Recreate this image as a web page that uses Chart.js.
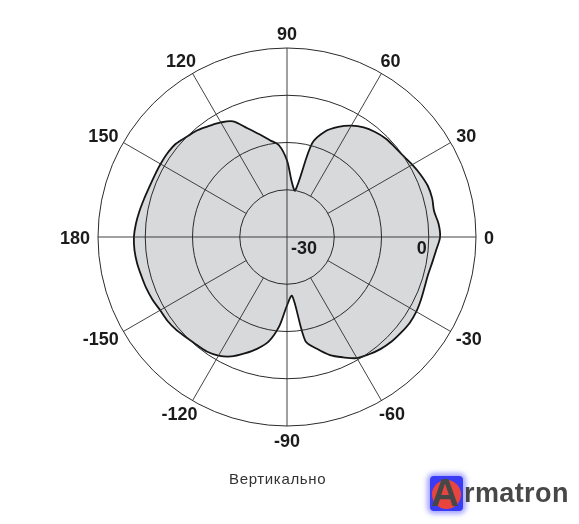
<!DOCTYPE html>
<html>
<head>
<meta charset="utf-8">
<script src="https://cdn.jsdelivr.net/npm/chart.js@4"></script>
<style>
html,body{margin:0;padding:0;background:#fff;}
#wrap{position:relative;width:579px;height:524px;overflow:hidden;background:#fff;}
#c{position:absolute;left:0;top:0;}
#cap{position:absolute;left:229px;top:470px;font:15px "Liberation Sans",Arial,sans-serif;color:#333;white-space:nowrap;letter-spacing:0.65px;}
#sq{position:absolute;left:430px;top:476px;width:33px;height:35px;background:#3a3cf5;border-radius:4px;box-shadow:0 0 5px 3px rgba(90,90,255,0.55);}
#circ{position:absolute;left:2px;top:4px;width:29px;height:29px;border-radius:50%;background:#e8453e;}
#bigA{position:absolute;left:1px;top:-5px;font:bold 39px "Liberation Sans",Arial,sans-serif;color:#474747;line-height:44px;}
#rest{position:absolute;left:464px;top:478px;font:bold 27px "Liberation Sans",Arial,sans-serif;color:#474747;letter-spacing:0.4px;line-height:30px;white-space:nowrap;}
</style>
</head>
<body>
<div id="wrap">
  <canvas id="c" width="579" height="524"></canvas>
  <div id="cap">Вертикально</div>
  <div id="sq"><div id="circ"></div><div id="bigA">A</div></div>
  <div id="rest">rmatron</div>
</div>
<script>
// Angles in degrees (counter-clockwise, 0 = right)
const angleDeg = [0,5,10,15,20,25,30,35,40,45,50,55,60,65,70,75,80,85,90,95,100,105,110,115,120,125,130,135,140,145,150,155,160,165,170,175,180,
  -175,-170,-165,-160,-155,-150,-145,-140,-135,-130,-125,-120,-115,-110,-105,-100,-95,-90,-85,-80,-75,-70,-65,-60,-55,-50,-45,-40,-35,-30,-25,-20,-15,-10,-5];
// Gain in dB
const gainDb = [2.4,2.2,1.6,1.8,1.7,1.2,0.6,0.0,-0.3,-0.5,-1.0,-1.7,-2.8,-4.3,-6.2,-9.5,-20.0,-18.3,-13.8,-10.5,-9.2,-7.5,-5.5,-3.0,-2.0,-1.3,-0.5,0.0,0.7,0.9,0.9,0.9,1.0,1.3,1.7,2.1,2.4,
  2.4,2.2,1.9,1.7,1.4,1.0,0.9,0.6,0.1,-0.2,-0.4,-1.0,-2.1,-3.8,-5.5,-7.5,-11.0,-15.5,-17.5,-7.7,-5.5,-3.4,-1.9,-0.4,0.3,0.9,1.3,1.5,1.7,1.6,1.3,1.0,0.9,1.2,1.7];
// Labelled spokes
const spokeAngles = [0,30,60,90,120,150,180,-150,-120,-90,-60,-30];
const spokeLabels = ['0','30','60','90','120','150','180','-150','-120','-90','-60','-30'];
// Radial scale
const rMin = -30, rMax = 10, rStep = 10;
const radialTickValues = [-30, 0];
const radialTickTexts = ['-30', '0'];
const innerSpokeStart = -20;

// Radar goes clockwise from startAngle; reorder so that angles run counter-clockwise on screen
const n = angleDeg.length;
const order = angleDeg.map((_, i) => (n - i) % n);
const radarLabels = order.map(i => angleDeg[i]);
const radarData = order.map(i => gainDb[i]);

const FONT = '"Liberation Sans", Arial, Helvetica, sans-serif';

const polarDecor = {
  id: 'polarDecor',
  afterDraw(chart) {
    const s = chart.scales.r, ctx = chart.ctx;
    const R = s.drawingArea;
    const rIn = s.getDistanceFromCenterForValue(innerSpokeStart);
    ctx.save();
    ctx.strokeStyle = '#2e2e2e';
    ctx.lineWidth = 0.9;
    spokeAngles.forEach(a => {
      const idx = radarLabels.indexOf(a);
      const start = (a % 90 === 0) ? 0 : rIn;
      const p0 = s.getPointPosition(idx, start);
      const p1 = s.getPointPosition(idx, R);
      ctx.beginPath(); ctx.moveTo(p0.x, p0.y); ctx.lineTo(p1.x, p1.y); ctx.stroke();
    });
    // angle labels
    ctx.fillStyle = '#1b1b1b';
    ctx.font = 'bold 18px ' + FONT;
    ctx.textAlign = 'center';
    ctx.textBaseline = 'alphabetic';
    const pad = 8, capH = 13;
    spokeAngles.forEach((a, k) => {
      const idx = radarLabels.indexOf(a);
      const th = s.getIndexAngle(idx) - Math.PI / 2;
      const c = Math.cos(th), sn = Math.sin(th);
      const p = s.getPointPosition(idx, R + pad);
      const w = ctx.measureText(spokeLabels[k]).width;
      const x = p.x + c * w / 2;
      const y = p.y + sn * capH / 2;
      ctx.fillText(spokeLabels[k], x, y + capH / 2);
    });
    // radial tick labels
    const cx = s.xCenter, cy = s.yCenter;
    radialTickValues.forEach((v, k) => {
      const d = s.getDistanceFromCenterForValue(v);
      if (d < 1) { ctx.textAlign = 'left'; ctx.fillText(radialTickTexts[k], cx + 4, cy + 17); }
      else { ctx.textAlign = 'right'; ctx.fillText(radialTickTexts[k], cx + d - 2, cy + 17); }
    });
    ctx.restore();
  }
};

new Chart(document.getElementById('c'), {
  type: 'radar',
  data: {
    labels: radarLabels,
    datasets: [{
      data: radarData,
      backgroundColor: '#d8d9db',
      borderColor: '#151515',
      borderWidth: 1.8,
      fill: 'start',
      pointRadius: 0,
      tension: 0.3
    }]
  },
  options: {
    responsive: false,
    animation: false,
    events: [],
    layout: { padding: { left: 98, right: 103, top: 48, bottom: 98 } },
    plugins: { legend: { display: false }, tooltip: { enabled: false }, title: { display: false } },
    scales: {
      r: {
        min: rMin, max: rMax,
        startAngle: 90,
        z: 1,
        ticks: { display: false, stepSize: rStep, z: 1 },
        grid: { circular: true, color: '#2a2a2a', lineWidth: 1, z: 1 },
        border: { z: 1 },
        angleLines: { display: false },
        pointLabels: { display: false }
      }
    }
  },
  plugins: [polarDecor]
});
</script>
</body>
</html>
